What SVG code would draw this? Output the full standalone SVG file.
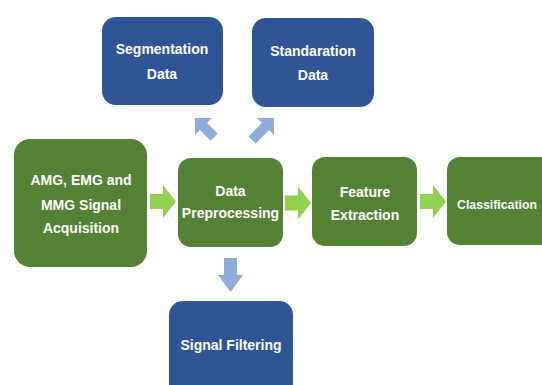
<svg xmlns="http://www.w3.org/2000/svg" width="542" height="385" viewBox="0 0 542 385">
<style>
.blue{fill:#2F5597}
.green{fill:#548235}
.ga{fill:#92D050}
.ba{fill:#8FAADC}
text{font-family:"Liberation Sans",Arial,sans-serif;font-weight:bold;font-size:14px;fill:#FFFFFF;text-anchor:middle}
</style>
<defs>
<polygon id="harrow" points="0,-7.5 13,-7.5 13,-16.5 26,0 13,16.5 13,7.5 0,7.5"/>
</defs>
<rect width="542" height="385" fill="#FFFFFF"/>
<g id="connectors">
<use href="#harrow" class="ga" transform="translate(150,201.5)"/>
<use href="#harrow" class="ga" transform="translate(285,203)"/>
<use href="#harrow" class="ga" transform="translate(420,201.5)"/>
<polygon class="ba" points="224,258 237,258 237,275 243,275 230.5,292 218,275 224,275"/>
<polygon class="ba" transform="translate(195,118) rotate(-135)" points="0,0 -12,-12 -12,-5 -27,-5 -27,5 -12,5 -12,12"/>
<polygon class="ba" transform="translate(274,118) rotate(-45)" points="0,0 -12,-12 -12,-5 -31,-5 -31,5 -12,5 -12,12"/>
</g>
<g id="segmentation">
<rect class="blue" x="102" y="17" width="121" height="88" rx="14"/>
<text x="162" y="54">Segmentation</text>
<text x="162" y="79">Data</text>
</g>
<g id="standaration">
<rect class="blue" x="252" y="18" width="122" height="89" rx="14"/>
<text x="313" y="56">Standaration</text>
<text x="313" y="80">Data</text>
</g>
<g id="acquisition">
<rect class="green" x="14" y="139" width="133" height="128" rx="16"/>
<text x="81" y="185">AMG, EMG and</text>
<text x="81" y="210">MMG Signal</text>
<text x="81" y="233">Acquisition</text>
</g>
<g id="preprocessing">
<rect class="green" x="178" y="158" width="105" height="89" rx="13"/>
<text x="230.5" y="196">Data</text>
<text x="230.5" y="218">Preprocessing</text>
</g>
<g id="feature">
<rect class="green" x="312" y="157" width="105" height="89" rx="13"/>
<text x="365" y="197">Feature</text>
<text x="365" y="220">Extraction</text>
</g>
<g id="classification">
<path class="green" d="M460,157 H542 V245 H460 A13,13 0 0 1 447,232 V170 A13,13 0 0 1 460,157 Z"/>
<text x="457" y="209" style="text-anchor:start;font-size:12.3px">Classification</text>
</g>
<g id="filtering">
<path class="blue" d="M183,301 H279 A14,14 0 0 1 293,315 V385 H169 V315 A14,14 0 0 1 183,301 Z"/>
<text x="231" y="350">Signal Filtering</text>
</g>
</svg>
